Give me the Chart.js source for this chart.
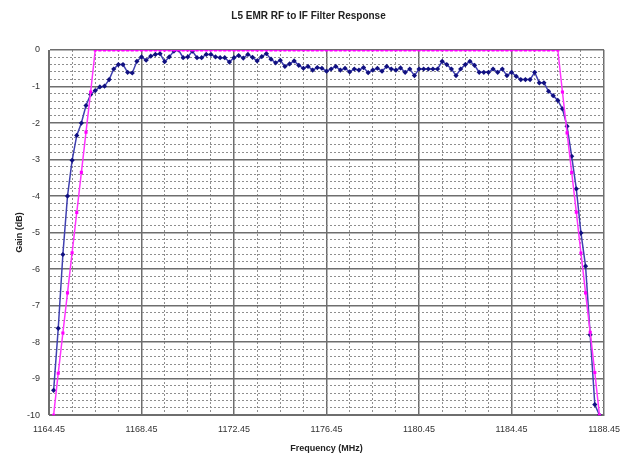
<!DOCTYPE html>
<html>
<head>
<meta charset="utf-8">
<script src="https://cdn.jsdelivr.net/npm/chart.js@4.4.1/dist/chart.umd.min.js"></script>
<style>
  html, body { margin: 0; padding: 0; background: #fff; }
  #wrap { width: 629px; height: 457px; }
</style>
</head>
<body>
<div id="wrap"><canvas id="filterChart" width="629" height="457"></canvas></div>
<script>
// Frequences (MHz), un point tous les 0.2 MHz
const freqs = [
  1164.65, 1164.85, 1165.05, 1165.25, 1165.45, 1165.65, 1165.85, 1166.05, 1166.25, 1166.45,
  1166.65, 1166.85, 1167.05, 1167.25, 1167.45, 1167.65, 1167.85, 1168.05, 1168.25, 1168.45,
  1168.65, 1168.85, 1169.05, 1169.25, 1169.45, 1169.65, 1169.85, 1170.05, 1170.25, 1170.45,
  1170.65, 1170.85, 1171.05, 1171.25, 1171.45, 1171.65, 1171.85, 1172.05, 1172.25, 1172.45,
  1172.65, 1172.85, 1173.05, 1173.25, 1173.45, 1173.65, 1173.85, 1174.05, 1174.25, 1174.45,
  1174.65, 1174.85, 1175.05, 1175.25, 1175.45, 1175.65, 1175.85, 1176.05, 1176.25, 1176.45,
  1176.65, 1176.85, 1177.05, 1177.25, 1177.45, 1177.65, 1177.85, 1178.05, 1178.25, 1178.45,
  1178.65, 1178.85, 1179.05, 1179.25, 1179.45, 1179.65, 1179.85, 1180.05, 1180.25, 1180.45,
  1180.65, 1180.85, 1181.05, 1181.25, 1181.45, 1181.65, 1181.85, 1182.05, 1182.25, 1182.45,
  1182.65, 1182.85, 1183.05, 1183.25, 1183.45, 1183.65, 1183.85, 1184.05, 1184.25, 1184.45,
  1184.65, 1184.85, 1185.05, 1185.25, 1185.45, 1185.65, 1185.85, 1186.05, 1186.25, 1186.45,
  1186.65, 1186.85, 1187.05, 1187.25, 1187.45, 1187.65, 1187.85, 1188.05, 1188.25
];

// Gain mesure (dB)
const measuredGain = [
  -9.32, -7.62, -5.6, -4.0, -3.02, -2.34, -2.0, -1.52, -1.22, -1.11,
  -1.01, -0.99, -0.81, -0.52, -0.40, -0.40, -0.61, -0.63, -0.31, -0.19,
  -0.28, -0.17, -0.12, -0.10, -0.32, -0.19, -0.03, 0, -0.21, -0.19,
  -0.03, -0.21, -0.21, -0.12, -0.12, -0.19, -0.21, -0.21, -0.33, -0.21,
  -0.15, -0.22, -0.12, -0.2, -0.3, -0.18, -0.1, -0.25, -0.35, -0.28,
  -0.45, -0.38, -0.3, -0.42, -0.5, -0.45, -0.55, -0.48, -0.5, -0.58,
  -0.52, -0.45, -0.55, -0.5, -0.6, -0.52, -0.55, -0.48, -0.62, -0.55,
  -0.5, -0.58, -0.45, -0.52, -0.55, -0.49, -0.61, -0.52, -0.70, -0.52,
  -0.52, -0.52, -0.52, -0.52, -0.31, -0.40, -0.52, -0.70, -0.52, -0.40,
  -0.31, -0.42, -0.61, -0.61, -0.61, -0.52, -0.61, -0.52, -0.70, -0.61,
  -0.72, -0.81, -0.81, -0.81, -0.61, -0.90, -0.90, -1.13, -1.25, -1.38,
  -1.61, -2.09, -2.91, -3.8, -5.01, -5.92, -7.8, -9.71, -10
];

// Gabarit (dB)
const maskGain = [
  -10, -8.85, -7.75, -6.65, -5.55, -4.45, -3.35, -2.25, -1.15, 0,
  0, 0, 0, 0, 0, 0, 0, 0, 0, 0,
  0, 0, 0, 0, 0, 0, 0, 0, 0, 0,
  0, 0, 0, 0, 0, 0, 0, 0, 0, 0,
  0, 0, 0, 0, 0, 0, 0, 0, 0, 0,
  0, 0, 0, 0, 0, 0, 0, 0, 0, 0,
  0, 0, 0, 0, 0, 0, 0, 0, 0, 0,
  0, 0, 0, 0, 0, 0, 0, 0, 0, 0,
  0, 0, 0, 0, 0, 0, 0, 0, 0, 0,
  0, 0, 0, 0, 0, 0, 0, 0, 0, 0,
  0, 0, 0, 0, 0, 0, 0, 0, 0, 0,
  -1.15, -2.27, -3.35, -4.44, -5.56, -6.65, -7.73, -8.83, -10
];

// Graduations
const xTickLabels = ['1164.45', '1168.45', '1172.45', '1176.45', '1180.45', '1184.45', '1188.45'];
const xMin = 1164.45, xMax = 1188.45, xMinorStep = 1, xMajorStep = 4;
const yMin = -10, yMax = 0, yMinorStep = 0.2;

const isMajorX = (v) => Math.abs((v - xMin) / xMajorStep - Math.round((v - xMin) / xMajorStep)) < 1e-6;
const isMajorY = (v) => Math.abs(v - Math.round(v)) < 1e-6;

const toPoints = (ys) => ys.map((y, i) => ({ x: freqs[i], y: y }));

const ctx = document.getElementById('filterChart').getContext('2d');

const whiteBg = {
  id: 'whiteBg',
  beforeDraw(chart) {
    const c = chart.ctx;
    c.save();
    c.fillStyle = '#fff';
    c.fillRect(0, 0, chart.width, chart.height);
    c.restore();
  }
};

const filterChart = new Chart(ctx, {
  type: 'line',
  data: {
    datasets: [
      {
        label: 'Mask',
        data: toPoints(maskGain),
        borderColor: '#ff33ff',
        backgroundColor: '#ff00ff',
        borderWidth: 1.5,
        pointStyle: 'rect',
        pointRadius: 2.2,
        pointBorderWidth: 0,
        tension: 0,
        order: 0
      },
      {
        label: 'Measured',
        data: toPoints(measuredGain),
        borderColor: '#4040b0',
        backgroundColor: '#101080',
        borderWidth: 1.5,
        pointStyle: 'rectRot',
        pointRadius: 2.6,
        pointBorderWidth: 0,
        tension: 0,
        order: 1
      }
    ]
  },
  options: {
    responsive: false,
    animation: false,
    layout: { padding: { top: 4, left: 4, right: 16, bottom: 4 } },
    plugins: {
      legend: { display: false },
      tooltip: { enabled: false },
      title: {
        display: true,
        text: 'L5 EMR RF to IF Filter Response',
        color: '#222',
        font: { family: 'Liberation Sans', size: 10, weight: 'bold' },
        padding: { top: 6, bottom: 28 }
      }
    },
    scales: {
      x: {
        type: 'linear',
        min: xMin,
        max: xMax,
        afterBuildTicks: (axis) => {
          const ticks = [];
          for (let v = xMin; v <= xMax + 1e-6; v += xMinorStep) {
            ticks.push({ value: Math.round(v * 100) / 100 });
          }
          axis.ticks = ticks;
        },
        ticks: {
          autoSkip: false,
          maxRotation: 0,
          padding: 9,
          color: '#333',
          font: { family: 'Liberation Sans', size: 9 },
          callback: (v) => {
            if (!isMajorX(v)) return '';
            return xTickLabels[Math.round((v - xMin) / xMajorStep)];
          }
        },
        grid: {
          drawTicks: false,
          color: (c) => (c.tick && isMajorX(c.tick.value)) ? '#6e6e6e' : '#8e8e8e',
          lineWidth: (c) => (c.tick && isMajorX(c.tick.value)) ? 1.5 : 1
        },
        border: {
          display: true,
          color: '#6e6e6e',
          width: 1,
          dash: (c) => (c.tick && !isMajorX(c.tick.value)) ? [2, 2] : []
        },
        title: {
          display: true,
          text: 'Frequency (MHz)',
          color: '#222',
          font: { family: 'Liberation Sans', size: 9, weight: 'bold', lineHeight: 1 },
          padding: { top: 0, bottom: 0 }
        }
      },
      y: {
        type: 'linear',
        min: yMin,
        max: yMax,
        afterBuildTicks: (axis) => {
          const ticks = [];
          for (let k = 0; k <= Math.round((yMax - yMin) / yMinorStep); k++) {
            ticks.push({ value: Math.round((yMin + k * yMinorStep) * 10) / 10 });
          }
          axis.ticks = ticks;
        },
        afterFit: (scale) => { scale.width = 45; },
        ticks: {
          autoSkip: false,
          padding: 9,
          color: '#333',
          font: { family: 'Liberation Sans', size: 9 },
          callback: (v) => isMajorY(v) ? String(Math.round(v)) : ''
        },
        grid: {
          drawTicks: false,
          color: (c) => (c.tick && isMajorY(c.tick.value)) ? '#6e6e6e' : '#8e8e8e',
          lineWidth: (c) => (c.tick && isMajorY(c.tick.value)) ? 1.5 : 1
        },
        border: {
          display: true,
          color: '#6e6e6e',
          width: 1,
          dash: (c) => (c.tick && !isMajorY(c.tick.value)) ? [2, 2] : []
        },
        title: {
          display: true,
          text: 'Gain (dB)',
          color: '#222',
          font: { family: 'Liberation Sans', size: 9, weight: 'bold' },
          padding: { top: 10, bottom: 0 }
        }
      }
    }
  },
  plugins: [whiteBg]
});
</script>
</body>
</html>
